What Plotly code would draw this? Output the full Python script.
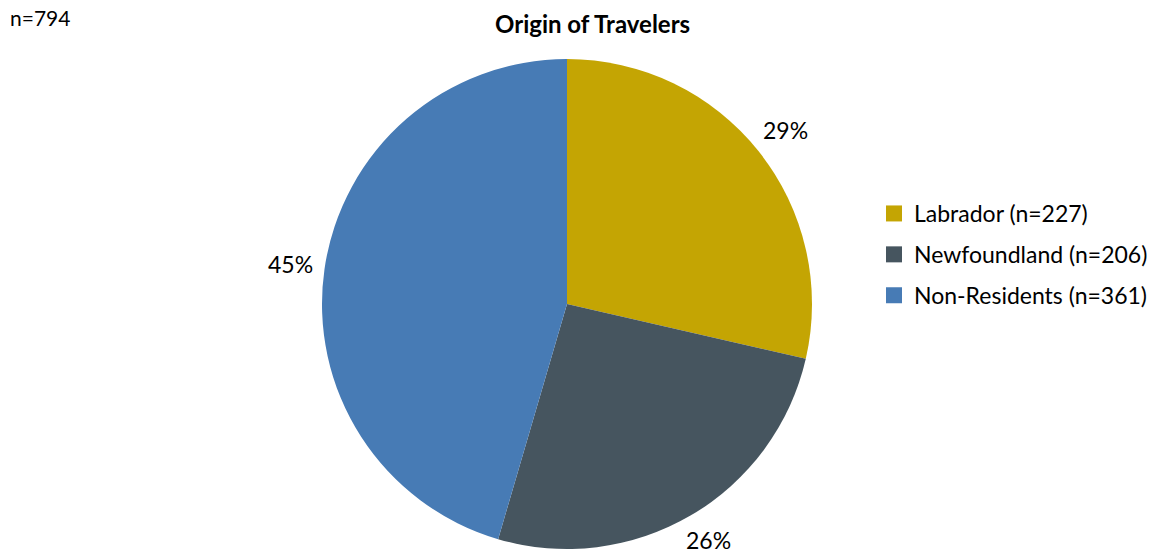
import math
import plotly.graph_objects as go

# Survey counts by origin
labels = ["Labrador (n=227)", "Newfoundland (n=206)", "Non-Residents (n=361)"]
counts = [227, 206, 361]
colors = ["#C4A503", "#46555F", "#477BB5"]
total_label = "n=794"
title_text = "Origin of Travelers"

W, H = 1162, 557
FONT = "Lato, 'Open Sans', sans-serif"

# Pie placement (pixels)
cx, cy, r = 567, 304, 245
dom_x = [(cx - r) / W, (cx + r) / W]
dom_y = [1 - (cy + r) / H, 1 - (cy - r) / H]

fig = go.Figure()
fig.add_trace(
    go.Pie(
        labels=labels,
        values=counts,
        sort=False,
        direction="clockwise",
        rotation=0,
        marker=dict(colors=colors, line=dict(color="white", width=0)),
        textinfo="none",
        hoverinfo="label+percent",
        domain=dict(x=dom_x, y=dom_y),
        showlegend=False,
    )
)

# Legend entries (one group each so the rows can be spaced apart)
for lab, col in zip(labels, colors):
    fig.add_trace(
        go.Scatter(
            x=[None], y=[None], mode="markers", name=lab,
            legendgroup=lab,
            marker=dict(symbol="square", size=16, color=col),
            hoverinfo="skip",
        )
    )

# Percentage labels placed just outside each slice's mid-angle
annotations = []
tot = sum(counts)
cum = 0
for v in counts:
    mid = (cum + v / 2) / tot * 2 * math.pi
    cum += v
    lr = r * 1.14
    px = cx + lr * math.sin(mid)
    py = min(cy - lr * math.cos(mid), H - 17)  # keep text inside the page
    annotations.append(
        dict(
            x=px / W, y=1 - py / H, xref="paper", yref="paper",
            text=f"{round(v / tot * 100)}%", showarrow=False,
            xanchor="center", yanchor="middle",
            font=dict(size=23, color="#000000", family=FONT),
        )
    )

annotations.append(
    dict(x=8 / W, y=1 - 18 / H, xref="paper", yref="paper", text=total_label,
         showarrow=False, xanchor="left", yanchor="middle",
         font=dict(size=21, color="#000000", family=FONT))
)
annotations.append(
    dict(x=592 / W, y=1 - 24 / H, xref="paper", yref="paper",
         text=f"<b>{title_text}</b>", showarrow=False,
         xanchor="center", yanchor="middle",
         font=dict(size=24, color="#000000", family=FONT))
)

fig.update_layout(
    width=W, height=H,
    margin=dict(l=0, r=0, t=0, b=0),
    paper_bgcolor="white",
    plot_bgcolor="white",
    xaxis=dict(visible=False),
    yaxis=dict(visible=False),
    showlegend=True,
    legend=dict(
        x=874 / W, y=1 - 192 / H, xanchor="left", yanchor="top",
        font=dict(size=23, color="#000000", family=FONT),
        bgcolor="rgba(0,0,0,0)",
        traceorder="grouped",
        tracegroupgap=8,
        itemsizing="trace",
    ),
    annotations=annotations,
)

fig.write_html("out.html")
